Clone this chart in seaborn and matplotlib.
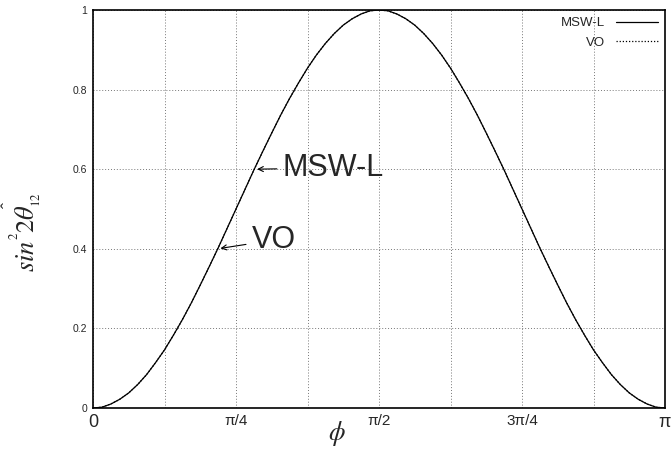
import numpy as np
import pandas as pd
import matplotlib
matplotlib.use("Agg")
import matplotlib.pyplot as plt
import seaborn as sns

# phi sample index k: phi = k * pi / 64
phi_index = list(range(65))
msw_l = [0.000, 0.002, 0.010, 0.022, 0.038, 0.059, 0.084, 0.114, 0.146, 0.183,
         0.222, 0.264, 0.309, 0.355, 0.402, 0.451, 0.500, 0.549, 0.598, 0.645,
         0.691, 0.736, 0.778, 0.817, 0.854, 0.887, 0.916, 0.941, 0.962, 0.978,
         0.990, 0.998, 1.000, 0.998, 0.990, 0.978, 0.962, 0.941, 0.916, 0.887,
         0.854, 0.817, 0.778, 0.736, 0.691, 0.645, 0.598, 0.549, 0.500, 0.451,
         0.402, 0.355, 0.309, 0.264, 0.222, 0.183, 0.146, 0.114, 0.084, 0.059,
         0.038, 0.022, 0.010, 0.002, 0.000]
vo = [0.000, 0.002, 0.010, 0.022, 0.038, 0.059, 0.084, 0.114, 0.146, 0.183,
      0.222, 0.264, 0.309, 0.355, 0.402, 0.451, 0.500, 0.549, 0.598, 0.645,
      0.691, 0.736, 0.778, 0.817, 0.854, 0.887, 0.916, 0.941, 0.962, 0.978,
      0.990, 0.998, 1.000, 0.998, 0.990, 0.978, 0.962, 0.941, 0.916, 0.887,
      0.854, 0.817, 0.778, 0.736, 0.691, 0.645, 0.598, 0.549, 0.500, 0.451,
      0.402, 0.355, 0.309, 0.264, 0.222, 0.183, 0.146, 0.114, 0.084, 0.059,
      0.038, 0.022, 0.010, 0.002, 0.000]
xtick_labels = ["0", "", "π/4", "", "π/2", "", "3π/4", "", "π"]
ytick_labels = ["0", "0.2", "0.4", "0.6", "0.8", "1"]

sns.set_style("white")
plt.rcParams['font.family'] = ['Liberation Sans', 'DejaVu Sans']
plt.rcParams['mathtext.fontset'] = 'stix'

phi = np.array(phi_index) * np.pi / 64
df = pd.DataFrame({"phi": np.concatenate([phi, phi]),
                   "val": msw_l + vo,
                   "series": ["MSW-L"] * len(phi) + ["VO"] * len(phi)})

fig = plt.figure(figsize=(6.72, 4.49), dpi=100)
ax = fig.add_axes([93/672, 1 - 408/449, (665 - 93)/672, (408 - 10)/449])

sns.lineplot(data=df[df.series == "MSW-L"], x="phi", y="val", ax=ax, color="black",
             lw=0.9, label="MSW-L", estimator=None)
sns.lineplot(data=df[df.series == "VO"], x="phi", y="val", ax=ax, color="black",
             lw=0.9, linestyle=(0, (1, 1.5)), label="VO", estimator=None)

ax.set_xlim(0, np.pi)
ax.set_ylim(0, 1)
ax.set_xticks(np.arange(0, 9) * np.pi / 8)
ax.set_xticklabels(xtick_labels, fontsize=11)
ax.get_xticklabels()[0].set_fontsize(13)
ax.get_xticklabels()[-1].set_fontsize(13)
ax.set_yticks(np.linspace(0, 1, 6))
ax.set_yticklabels(ytick_labels, fontsize=7.5)
ax.tick_params(axis='both', direction='in', length=5, width=0.8, color='black')
ax.tick_params(axis='x', pad=4)
ax.tick_params(axis='y', pad=4)
ax.grid(True, color='#777777', linestyle=(0, (1, 2)), linewidth=0.7)
for s in ax.spines.values():
    s.set_color('black')
    s.set_linewidth(1.2)

ax.set_xlabel("")
ax.set_ylabel("")
fig.text(337/672, 1 - 434/449, r"$\phi$", fontsize=19, ha='center', va='center')
fig.text(0.038, 1 - 232/449, r"$sin^{^2\!}2\theta_{_{12}}$", rotation=90, fontsize=19,
         ha='center', va='center')
fig.text(0.016, 1 - 205/449, "ˆ", rotation=90, fontsize=13, ha='center', va='center')

leg = ax.legend(loc='upper right', frameon=False, fontsize=9.5, markerfirst=False,
                handlelength=3.2, borderaxespad=0.15, labelspacing=0.55)

ax.annotate("MSW-L", xy=(np.arcsin(np.sqrt(0.6)), 0.6),
            xytext=(0.332 * np.pi, 0.603), fontsize=22, va='center',
            arrowprops=dict(arrowstyle='->', color='black', lw=0.8, mutation_scale=9))
ax.annotate("VO", xy=(np.arcsin(np.sqrt(0.4)), 0.4),
            xytext=(0.278 * np.pi, 0.422), fontsize=22, va='center',
            arrowprops=dict(arrowstyle='->', color='black', lw=0.8, mutation_scale=9))

fig.savefig("out.png", dpi=100)
